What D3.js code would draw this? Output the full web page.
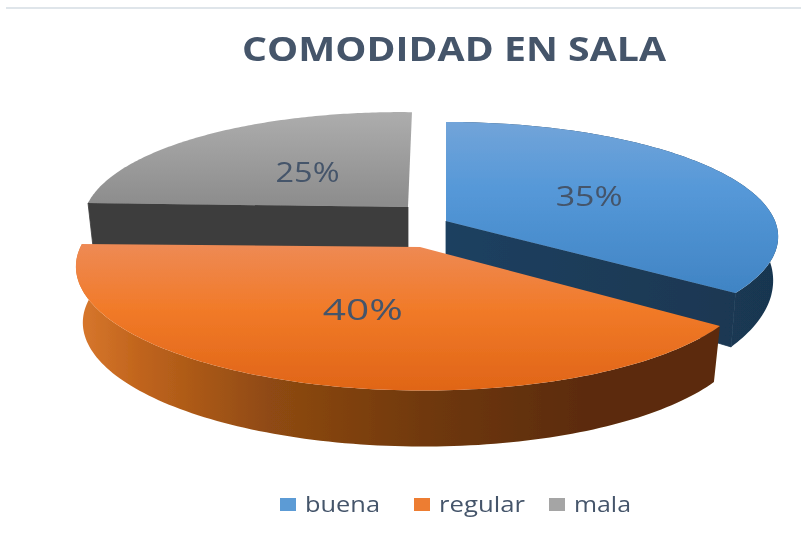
<!DOCTYPE html>
<html><head><meta charset="utf-8">
<script src="https://cdn.jsdelivr.net/npm/d3@7"></script>
<style>html,body{margin:0;padding:0;background:#fff}svg{display:block}</style>
</head><body><svg id="c" width="801" height="535"></svg>
<script>
const categories = ["buena", "regular", "mala"];
const values = [35, 40, 25];
const labels = ["35%", "40%", "25%"];
const titleText = "COMODIDAD EN SALA";
const swatches = ["#5b9bd5", "#ed7d31", "#a5a5a5"];

// 3D projection parameters of each exploded slice (layout, not data)
const geom = [
  {cx:446,cy:221,rx:329,ry:112.6,p:.137,q:0,sx:0,sy:0,d0:41,f:.18,k:.985,rim:true,wall:"end",lf:.5,dx:1,w:67},
  {cx:420,cy:247,rx:334,ry:117,p:.185,q:.012,sx:0,sy:3,d0:56,f:0,k:.98,rim:true,wall:null,lf:.52,dx:2,w:80},
  {cx:408,cy:207,rx:320,ry:110,p:.16,q:0,sx:4.6,sy:4,d0:42,f:0,k:.985,rim:false,wall:"start",lf:.46,dx:-3,w:64}
];
const tops = [
  [[0,"#72a4d9"],[.4,"#5598d8"],[1,"#4084c4"]],
  [[0,"#ee8a55"],[.45,"#f17a28"],[1,"#e06517"]],
  [[0,"#adadad"],[1,"#8d8d8d"]]
];
const walls = [
  [[0,"#1f4060"],[1,"#193650"]],
  [[0,"#d9782e"],[.1,"#c0641c"],[.3,"#8f4a12"],[.55,"#6f380c"],[.8,"#5b2b08"],[1,"#5b2b08"]],
  [[0,"#3c3c3c"],[1,"#3c3c3c"]]
];
const textColor = "#44546a";

const svg = d3.select("#c");
const defs = svg.append("defs");
function grad(id, stops, x1, y1, x2, y2){
  const g = defs.append("linearGradient").attr("id",id).attr("gradientUnits","userSpaceOnUse")
    .attr("x1",x1).attr("y1",y1).attr("x2",x2).attr("y2",y2);
  stops.forEach(s=>g.append("stop").attr("offset",s[0]).attr("stop-color",s[1]));
}
const soft = defs.append("filter").attr("id","soft");
soft.append("feGaussianBlur").attr("stdDeviation",.45);
const softText = defs.append("filter").attr("id","softText");
softText.append("feGaussianBlur").attr("stdDeviation",.4);

svg.append("line").attr("x1",6).attr("x2",801).attr("y1",8).attr("y2",8)
  .attr("stroke","#dfe5ea").attr("stroke-width",2);

const arcs = d3.pie().sort(null).value(d=>d)(values);
const line = d3.line().curve(d3.curveLinear);

function proj(g, a, f){
  const u = Math.sin(a)*f, v = Math.cos(a)*f, den = 1+g.p*v+g.q*u;
  return [g.cx+(g.rx*u+g.sx*v)/den, g.cy+(-g.ry*v+g.sy*u)/den];
}
function lower(g, pt){
  return [g.cx+(pt[0]-g.cx)*g.k, pt[1]+g.d0+(pt[1]-g.cy)*g.f];
}
function arcPts(g, a0, a1){
  const n = 120;
  return d3.range(n+1).map(i=>proj(g, a0+(a1-a0)*i/n, 1));
}

const chart = svg.append("g").attr("filter","url(#soft)");
[2,0,1].forEach(i=>{
  const g = geom[i], s = arcs[i];
  const pts = arcPts(g, s.startAngle, s.endAngle);
  const apex = [g.cx, g.cy];
  const ys = pts.map(p=>p[1]);
  grad("top"+i, tops[i], 0, d3.min(ys), 0, d3.max(ys));
  const xs = pts.map(p=>p[0]);
  grad("wall"+i, walls[i], d3.min(xs), 0, d3.max(xs), 0);
  const wallFill = `url(#wall${i})`;
  if(g.rim){
    const rim = pts.concat(pts.map(p=>lower(g,p)).reverse());
    chart.append("path").attr("d",line(rim)+"Z").attr("fill",wallFill);
  }
  if(g.wall){
    const e = proj(g, g.wall==="end"?s.endAngle:s.startAngle, 1);
    chart.append("path").attr("d",line([apex,e,lower(g,e),lower(g,apex)])+"Z")
      .attr("fill",wallFill).attr("stroke",wallFill).attr("stroke-width",.8);
  }
  chart.append("path").attr("d",line([apex].concat(pts))+"Z").attr("fill",`url(#top${i})`);
});

const textLayer = svg.append("g").attr("filter","url(#softText)");

// percentage labels
[0,1,2].forEach(i=>{
  const g = geom[i], s = arcs[i];
  const c = proj(g,(s.startAngle+s.endAngle)/2,g.lf);
  textLayer.append("text").attr("x",c[0]+g.dx).attr("y",c[1]+10)
    .attr("text-anchor","middle").attr("font-family","'Open Sans',sans-serif")
    .attr("font-size",i===1?30:28).attr("fill",textColor)
    .attr("textLength",g.w).attr("lengthAdjust","spacingAndGlyphs")
    .text(labels[i]);
});

// title
textLayer.append("text").attr("x",454).attr("y",61).attr("text-anchor","middle")
  .attr("font-family","'Open Sans',sans-serif").attr("font-weight",700)
  .attr("font-size",34).attr("fill",textColor)
  .attr("textLength",424).attr("lengthAdjust","spacingAndGlyphs").text(titleText);

// legend
const legendX = d3.scaleOrdinal().domain(categories).range([280,414,549]);
const legendW = d3.scaleOrdinal().domain(categories).range([75,86,57]);
categories.forEach((c,i)=>{
  const x = legendX(c);
  textLayer.append("rect").attr("x",x).attr("y",498).attr("width",16).attr("height",13)
    .attr("fill",swatches[i]);
  textLayer.append("text").attr("x",x+25).attr("y",512)
    .attr("font-family","'Open Sans',sans-serif").attr("font-size",21).attr("fill",textColor)
    .attr("textLength",legendW(c)).attr("lengthAdjust","spacingAndGlyphs").text(c);
});
</script></body></html>
